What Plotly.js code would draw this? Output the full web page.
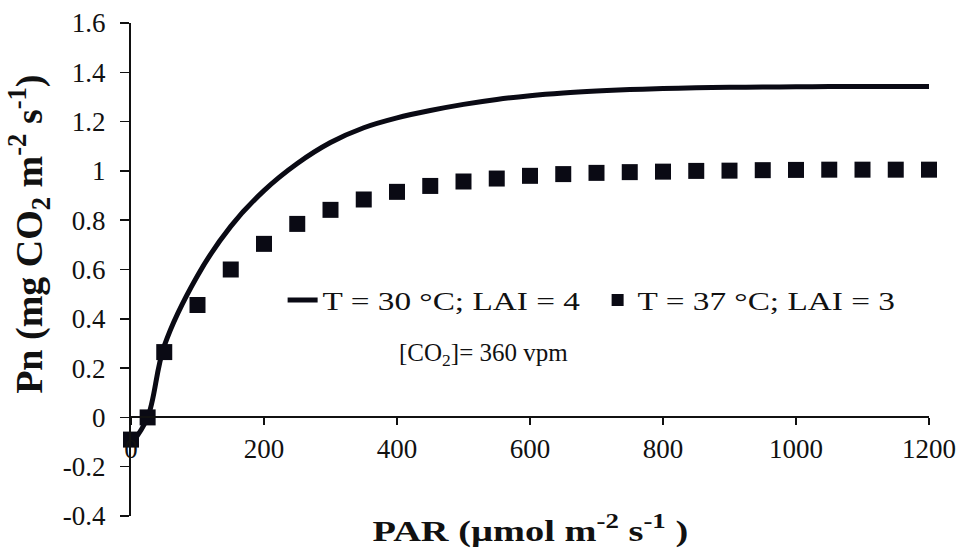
<!DOCTYPE html>
<html>
<head>
<meta charset="utf-8">
<script src="https://cdn.plot.ly/plotly-3.0.1.min.js"></script>
<style>
html,body{margin:0;padding:0;background:#fff;}
#chart{width:962px;height:551px;}
/* the reference draws legend text and the x title horizontally widened */
#chart .legendtext{transform:scaleX(1.28);transform-box:fill-box;transform-origin:left center;}
#chart .annotation[data-index="0"] text{transform:scaleX(1.28);transform-box:fill-box;transform-origin:center center;}
</style>
</head>
<body>
<div id="chart"></div>
<script>
// PAR (µmol m-2 s-1) for the modelled curve, T = 30 °C; LAI = 4
const parLine = [0, 25, 50, 100, 150, 200, 250, 300, 350, 400, 450, 500, 550, 600, 650, 700, 750, 800, 850, 900, 950, 1000, 1050, 1100, 1150, 1200];
const pnLine  = [-0.11, 0.0, 0.29, 0.575, 0.775, 0.92, 1.03, 1.115, 1.175, 1.215, 1.245, 1.27, 1.29, 1.305, 1.316, 1.324, 1.33, 1.334, 1.337, 1.339, 1.34, 1.341, 1.342, 1.342, 1.342, 1.342];

// PAR for the square series, T = 37 °C; LAI = 3
const parSq = [0, 25, 50, 100, 150, 200, 250, 300, 350, 400, 450, 500, 550, 600, 650, 700, 750, 800, 850, 900, 950, 1000, 1050, 1100, 1150, 1200];
const pnSq  = [-0.09, 0.0, 0.265, 0.456, 0.60, 0.704, 0.785, 0.842, 0.884, 0.915, 0.939, 0.957, 0.969, 0.980, 0.987, 0.992, 0.995, 0.997, 1.0, 1.001, 1.003, 1.004, 1.005, 1.005, 1.005, 1.005];

const seriesNames = ['T = 30 °C; LAI = 4', 'T = 37 °C; LAI = 3'];
const xTicks = [0, 200, 400, 600, 800, 1000, 1200];
const yTicks = [-0.4, -0.2, 0, 0.2, 0.4, 0.6, 0.8, 1, 1.2, 1.4, 1.6];
const yTickText = ['-0.4', '-0.2', '0', '0.2', '0.4', '0.6', '0.8', '1', '1.2', '1.4', '1.6'];

const FONT = '"Liberation Serif", "Times New Roman", serif';
const INK = '#0a0a14';

const traces = [
  {
    x: parLine, y: pnLine, name: seriesNames[0], type: 'scatter', mode: 'lines',
    line: {color: INK, width: 5, shape: 'spline', smoothing: 1},
    cliponaxis: false
  },
  {
    x: parSq, y: pnSq, name: seriesNames[1], type: 'scatter', mode: 'markers',
    marker: {symbol: 'square', size: 16, color: INK},
    cliponaxis: false
  }
];

const layout = {
  width: 962, height: 551,
  paper_bgcolor: '#fff', plot_bgcolor: '#fff',
  margin: {l: 131, r: 33, t: 23, b: 35, pad: 0},
  font: {family: FONT, size: 27, color: '#111'},
  showlegend: true,
  legend: {
    orientation: 'h', x: 0.19, y: 0.438, xanchor: 'left', yanchor: 'middle',
    bgcolor: 'rgba(0,0,0,0)', font: {family: FONT, size: 26, color: '#111'},
    itemsizing: 'constant', traceorder: 'normal',
    entrywidth: 270, entrywidthmode: 'pixels'
  },
  xaxis: {
    range: [0, 1200], tickvals: xTicks, ticktext: xTicks.map(String),
    showgrid: false, zeroline: false, showline: true, linecolor: '#111', linewidth: 2,
    ticks: 'outside', ticklen: 7, tickwidth: 1.5, tickcolor: '#111',
    anchor: 'free', position: 0.2,
    tickfont: {family: FONT, size: 27, color: '#111'}
  },
  yaxis: {
    range: [-0.4, 1.6], tickvals: yTicks, ticktext: yTickText,
    showgrid: false, zeroline: false, showline: true, linecolor: '#111', linewidth: 2,
    ticks: 'outside', ticklen: 9, tickwidth: 1.5, tickcolor: '#111',
    ticklabelstandoff: 9,
    tickfont: {family: FONT, size: 27, color: '#111'}
  },
  annotations: [
    {
      text: 'PAR (µmol m<sup>-2</sup> s<sup>-1</sup> )', xref: 'paper', yref: 'paper',
      x: 0.5, y: -0.026, xanchor: 'center', yanchor: 'middle', showarrow: false,
      font: {family: FONT, size: 30, color: '#111', weight: 'bold'}
    },
    {
      text: 'Pn (mg CO<sub>2</sub> m<sup>-2</sup> s<sup>-1</sup>)', xref: 'paper', yref: 'paper',
      x: -0.128, y: 0.572, xanchor: 'center', yanchor: 'middle', textangle: -90, showarrow: false,
      font: {family: FONT, size: 38, color: '#111', weight: 'bold'}
    },
    {
      text: '[CO<sub>2</sub>]= 360 vpm', xref: 'x', yref: 'y',
      x: 400, y: 0.254, xanchor: 'left', yanchor: 'middle', showarrow: false,
      font: {family: FONT, size: 25, color: '#111'}
    }
  ]
};

Plotly.newPlot('chart', traces, layout, {staticPlot: true, displayModeBar: false}).then(function (gd) {
  gd.querySelectorAll('text').forEach(function (t) {
    // drop empty placeholder text nodes that Plotly leaves in the SVG
    if (!t.textContent || !t.textContent.trim()) { t.remove(); return; }
    // mirror the computed font size as an attribute as well
    var fs = window.getComputedStyle(t).fontSize;
    if (fs) t.setAttribute('font-size', fs);
  });
});
</script>
</body>
</html>
